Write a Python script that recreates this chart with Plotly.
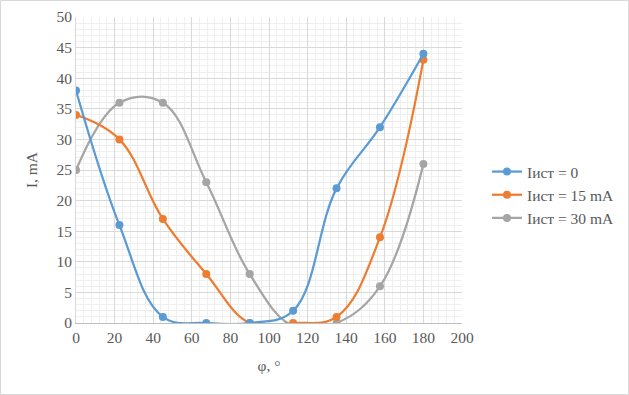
import plotly.graph_objects as go

phi = [0, 22.5, 45, 67.5, 90, 112.5, 135, 157.5, 180]
i_0 = [38, 16, 1, 0, 0, 2, 22, 32, 44]
i_15 = [34, 30, 17, 8, 0, 0, 1, 14, 43]
i_30 = [25, 36, 36, 23, 8, -0.5, 0, 6, 26]

names = ["Iист = 0", "Iист = 15 mA", "Iист = 30 mA"]
colors = ["#5b9bd5", "#ed7d31", "#a5a5a5"]
series = [i_0, i_15, i_30]

FONT = "Liberation Serif"
TXT = "#595959"
FS = 15.5

fig = go.Figure()
for k in [2, 1, 0]:
    fig.add_trace(go.Scatter(
        x=phi, y=series[k], name=names[k], mode="lines+markers",
        line=dict(color=colors[k], width=2.25, shape="spline", smoothing=1.1),
        marker=dict(color=colors[k], size=8, symbol="circle"),
        cliponaxis=True,
    ))

L, R, T, B = 76, 167, 17, 72
W, H = 629, 395
pw, ph = W - L - R, H - T - B

fig.update_layout(
    width=W, height=H,
    margin=dict(l=L, r=R, t=T, b=B, autoexpand=False),
    paper_bgcolor="white", plot_bgcolor="white",
    font=dict(family=FONT, size=FS, color=TXT),
    showlegend=True,
    legend=dict(traceorder="reversed", x=(487 - L) / pw, xanchor="left",
                y=(323 - 195) / ph, yanchor="middle",
                font=dict(family=FONT, size=FS, color=TXT),
                itemwidth=30, tracegroupgap=0, bgcolor="rgba(0,0,0,0)"),
    xaxis=dict(range=[0, 200], dtick=20, tick0=0, automargin=False,
               showgrid=True, gridcolor="#d9d9d9", gridwidth=1,
               minor=dict(dtick=4, showgrid=True, gridcolor="#efefef", gridwidth=1),
               showline=True, linecolor="#bfbfbf", linewidth=1,
               zeroline=False, ticks="", tickfont=dict(family=FONT, size=FS, color=TXT),
               title=dict(text="φ, °", font=dict(family=FONT, size=FS, color=TXT), standoff=15),
               fixedrange=True),
    yaxis=dict(range=[0, 50], dtick=5, tick0=0, automargin=False,
               showgrid=True, gridcolor="#d9d9d9", gridwidth=1,
               minor=dict(dtick=1, showgrid=True, gridcolor="#efefef", gridwidth=1),
               showline=True, linecolor="#d9d9d9", linewidth=1,
               zeroline=False, ticks="", tickfont=dict(family=FONT, size=FS, color=TXT),
               title=dict(text="I, mA", font=dict(family=FONT, size=FS, color=TXT), standoff=14),
               fixedrange=True),
    shapes=[dict(type="rect", xref="paper", yref="paper",
                 x0=(0.5 - L) / pw, x1=(W - 0.5 - L) / pw,
                 y0=-(B - 0.5) / ph, y1=1 + (T - 0.5) / ph,
                 line=dict(color="#d9d9d9", width=1), fillcolor="rgba(0,0,0,0)",
                 layer="below")],
)

fig.write_html("out.html", config={"displayModeBar": False},
               post_script="document.body.style.margin='0';")
